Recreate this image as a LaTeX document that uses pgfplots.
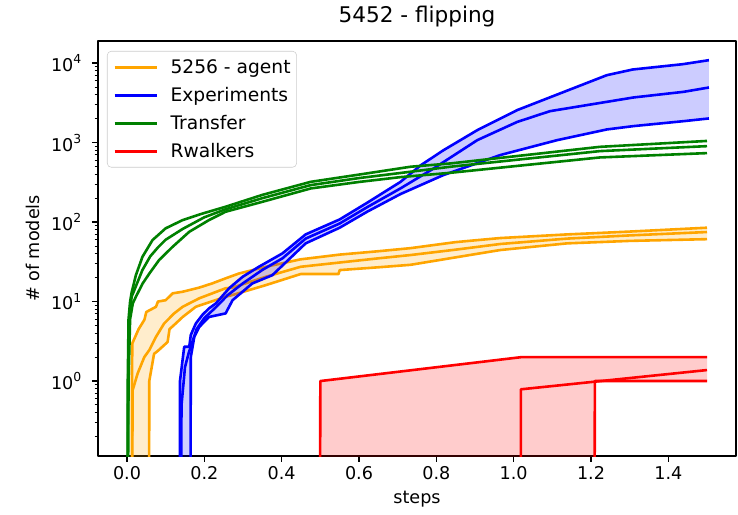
\documentclass[border=0pt]{standalone}
\usepackage{pgfplots}
\pgfplotsset{compat=1.18}
\usepackage{fontspec}
\setmainfont{DejaVu Sans}
\definecolor{mplorange}{HTML}{FFA500}
\definecolor{mplblue}{HTML}{0000FF}
\definecolor{mplgreen}{HTML}{008000}
\definecolor{mplred}{HTML}{FF0000}
\definecolor{legframe}{HTML}{CCCCCC}
\newcommand{\ten}[1]{10\raisebox{0.45em}{\fontsize{9.3}{10}\selectfont #1}}
\newcommand{\txt}{\fontsize{13.2}{15.8}\selectfont}

\begin{document}
\begin{tikzpicture}
\useasboundingbox (0,0) rectangle (553.5pt,385.5pt);
\begin{axis}[
  at={(73.5pt,43.5pt)}, anchor=south west,
  scale only axis, width=478.5pt, height=311.25pt,
  xmin=-0.075, xmax=1.575,
  ymode=log, ymin=0.114, ymax=19000,
  xtick={0,0.2,0.4,0.6,0.8,1.0,1.2,1.4},
  xticklabels={0.0,0.2,0.4,0.6,0.8,1.0,1.2,1.4},
  ytick={1,10,100,1000,10000},
  yticklabels={\ten{0},\ten{1},\ten{2},\ten{3},\ten{4}},
  minor ytick={0.2,0.3,0.4,0.5,0.6,0.7,0.8,0.9,2,3,4,5,6,7,8,9,20,30,40,50,60,70,80,90,200,300,400,500,600,700,800,900,2000,3000,4000,5000,6000,7000,8000,9000},
  tick align=outside, tick pos=left,
  major tick length=4.5pt, minor tick length=2.6pt,
  every tick/.style={black, line width=1pt},
  every minor tick/.append style={line width=0.75pt},
  axis line style={line width=1pt},
  ticklabel style={font=\txt},
  yticklabel style={xshift=-4.5pt},
  /pgf/number format/assume math mode=true,
  title={5452 - flipping},
  every axis title/.style={at={(0.5,1)}, anchor=base, yshift=13.5pt, font=\fontsize{16.2}{19}\selectfont},
  xlabel={steps},
  every axis x label/.style={at={(0.5,0)}, anchor=base, yshift=-35.25pt, font=\txt},
  ylabel={\# of models},
  every axis y label/.style={at={(0,0.5)}, xshift=-48.75pt, rotate=90, anchor=center, font=\txt},
  legend style={at={(0,1)}, anchor=north west, xshift=6.75pt, yshift=-7.5pt,
    draw=legframe, rounded corners=3pt, fill=white, fill opacity=0.8, text opacity=1,
    font=\fontsize{14}{16.8}\selectfont, inner xsep=4.5pt, inner ysep=1.5pt,
    nodes={inner sep=0pt}},
  legend cell align=left,
  legend image code/.code={\draw[#1, line width=1.95pt] (0pt,0pt) -- (31.5pt,0pt); \path[draw=none, fill=none] (0pt,-10.5pt) rectangle (42pt,10.5pt);},
  line join=round,
]
\addlegendimage{mplorange, line width=1.95pt}
\addlegendentry{5256 - agent}
\addlegendimage{mplblue, line width=1.95pt}
\addlegendentry{Experiments}
\addlegendimage{mplgreen, line width=1.95pt}
\addlegendentry{Transfer}
\addlegendimage{mplred, line width=1.95pt}
\addlegendentry{Rwalkers}

% 5256 - agent : band (upper, then lower reversed), then upper / mean / lower
\addplot[fill=mplorange, fill opacity=0.2, draw=none, forget plot] coordinates {
(0.0125,0.01) (0.013,1.5) (0.014,3.0) (0.03,4.5) (0.045,5.9) (0.05,7.4) (0.075,8.6) (0.08,10) (0.1,10.4)
(0.118,12.7) (0.144,13.3) (0.187,15.0) (0.22,16.9) (0.255,19.6) (0.29,22.6) (0.359,27.4) (0.449,34)
(0.55,39) (0.65,43) (0.733,47) (0.85,56) (0.965,63) (1.138,70) (1.3,76) (1.5,85)
(1.5,61) (1.3,58) (1.138,54) (0.965,44.5) (0.85,36) (0.733,29) (0.65,27) (0.55,24.9) (0.547,22.2)
(0.449,22.2) (0.359,16.1) (0.273,12.1) (0.255,11.5) (0.204,9.5) (0.178,8.6) (0.144,6.4) (0.126,5.3)
(0.11,4.5) (0.105,3.1) (0.08,2.4) (0.07,2.2) (0.0576,1) (0.057,0.01)};
\addplot[mplorange, line width=1.95pt, forget plot] coordinates {
(0.0125,0.01) (0.013,1.5) (0.014,3.0) (0.03,4.5) (0.045,5.9) (0.05,7.4) (0.075,8.6) (0.08,10) (0.1,10.4)
(0.118,12.7) (0.144,13.3) (0.187,15.0) (0.22,16.9) (0.255,19.6) (0.29,22.6) (0.359,27.4) (0.449,34)
(0.55,39) (0.65,43) (0.733,47) (0.85,56) (0.965,63) (1.138,70) (1.3,76) (1.5,85)};
\addplot[mplorange, line width=1.95pt, forget plot] coordinates {
(0.0125,0.01) (0.0147,0.77) (0.0276,1.25) (0.0447,2.0) (0.0576,2.45) (0.075,3.6) (0.096,5.3) (0.122,7.1)
(0.144,8.6) (0.187,11) (0.255,14.7) (0.273,15) (0.359,20.5) (0.449,27.4) (0.55,31) (0.65,35) (0.733,38.5)
(0.85,45) (0.965,53) (1.138,62) (1.3,68) (1.5,75)};
\addplot[mplorange, line width=1.95pt, forget plot] coordinates {
(0.057,0.01) (0.0576,1) (0.07,2.2) (0.08,2.4) (0.105,3.1) (0.11,4.5) (0.126,5.3) (0.144,6.4) (0.178,8.6)
(0.204,9.5) (0.255,11.5) (0.273,12.1) (0.359,16.1) (0.449,22.2) (0.547,22.2) (0.55,24.9) (0.65,27)
(0.733,29) (0.85,36) (0.965,44.5) (1.138,54) (1.3,58) (1.5,61)};

% Experiments
\addplot[fill=mplblue, fill opacity=0.2, draw=none, forget plot] coordinates {
(0.1365,0.01) (0.137,1.0) (0.148,2.7) (0.161,2.7) (0.165,3.8) (0.178,5.3) (0.195,6.8) (0.212,8.2)
(0.23,9.5) (0.264,14.7) (0.299,20.5) (0.341,27.4) (0.402,40.4) (0.462,70) (0.55,108) (0.621,175)
(0.707,320) (0.76,520) (0.818,800) (0.906,1436) (1.009,2564) (1.241,7060) (1.308,8320) (1.437,9700) (1.505,10900)
(1.505,2015) (1.44,1864) (1.31,1614) (1.241,1465) (1.112,1073) (0.965,697) (0.818,390) (0.707,225)
(0.621,135) (0.55,85) (0.462,54) (0.376,21.5) (0.324,16.9) (0.273,10.4) (0.255,7.1) (0.212,6.4)
(0.187,4.8) (0.174,3.6) (0.165,2.0) (0.164,0.01)};
\addplot[mplblue, line width=1.95pt, forget plot] coordinates {
(0.1365,0.01) (0.137,1.0) (0.148,2.7) (0.161,2.7) (0.165,3.8) (0.178,5.3) (0.195,6.8) (0.212,8.2)
(0.23,9.5) (0.264,14.7) (0.299,20.5) (0.341,27.4) (0.402,40.4) (0.462,70) (0.55,108) (0.621,175)
(0.707,320) (0.76,520) (0.818,800) (0.906,1436) (1.009,2564) (1.241,7060) (1.308,8320) (1.437,9700) (1.505,10900)};
\addplot[mplblue, line width=1.95pt, forget plot] coordinates {
(0.139,0.01) (0.141,0.5) (0.15,1.5) (0.16,2.3) (0.17,3.2) (0.18,4.5) (0.2,6.2) (0.23,8.5) (0.26,12)
(0.3,17) (0.35,25) (0.402,35) (0.462,62) (0.55,96) (0.621,154) (0.707,265) (0.793,473) (0.906,1075)
(1.009,1820) (1.094,2489) (1.241,3260) (1.31,3700) (1.44,4360) (1.505,4940)};
\addplot[mplblue, line width=1.95pt, forget plot] coordinates {
(0.164,0.01) (0.165,2.0) (0.174,3.6) (0.187,4.8) (0.212,6.4) (0.255,7.1) (0.273,10.4) (0.324,16.9)
(0.376,21.5) (0.462,54) (0.55,85) (0.621,135) (0.707,225) (0.818,390) (0.965,697) (1.112,1073)
(1.241,1465) (1.31,1614) (1.44,1864) (1.505,2015)};

% Transfer
\addplot[mplgreen, line width=1.95pt, forget plot] coordinates {
(0.001,0.01) (0.002,1) (0.004,6) (0.008,10) (0.012,13) (0.023,21.5) (0.04,36.6) (0.066,59.4) (0.1,83.5)
(0.144,106) (0.195,128) (0.255,156) (0.35,220) (0.475,321) (0.6,396) (0.733,497) (0.836,547)
(1.0,671) (1.223,885) (1.5,1050)};
\addplot[mplgreen, line width=1.95pt, forget plot] coordinates {
(0.001,0.01) (0.003,1) (0.006,6) (0.012,11.5) (0.025,16.5) (0.04,25) (0.06,37) (0.08,48) (0.1,60)
(0.144,82) (0.2,115) (0.255,145) (0.35,200) (0.475,292) (0.6,358) (0.733,430) (0.836,497)
(1.0,603) (1.223,782) (1.5,903)};
\addplot[mplgreen, line width=1.95pt, forget plot] coordinates {
(0.002,0.01) (0.004,1) (0.008,6) (0.015,9.5) (0.023,11.5) (0.0405,16.9) (0.058,22.6) (0.083,33.3)
(0.118,48.9) (0.161,75.5) (0.212,106) (0.255,135) (0.35,180) (0.475,265) (0.6,320) (0.707,368)
(0.836,417) (1.0,504) (1.223,651) (1.5,738)};

% Rwalkers
\addplot[fill=mplred, fill opacity=0.2, draw=none, forget plot] coordinates {
(0.499,0.01) (0.5,1) (1.02,2) (1.5,2) (1.5,1) (1.21,1) (1.209,0.01)};
\addplot[mplred, line width=1.95pt, forget plot] coordinates {
(0.499,0.01) (0.5,1) (1.02,2) (1.5,2)};
\addplot[mplred, line width=1.95pt, forget plot] coordinates {
(1.0185,0.01) (1.0186,0.787) (1.5,1.375)};
\addplot[mplred, line width=1.95pt, forget plot] coordinates {
(1.209,0.01) (1.21,1) (1.5,1)};

\node[anchor=base east, font=\txt] at (rel axis cs:1,0) [yshift=-37.5pt] {1e7};
\end{axis}
\end{tikzpicture}
\end{document}
